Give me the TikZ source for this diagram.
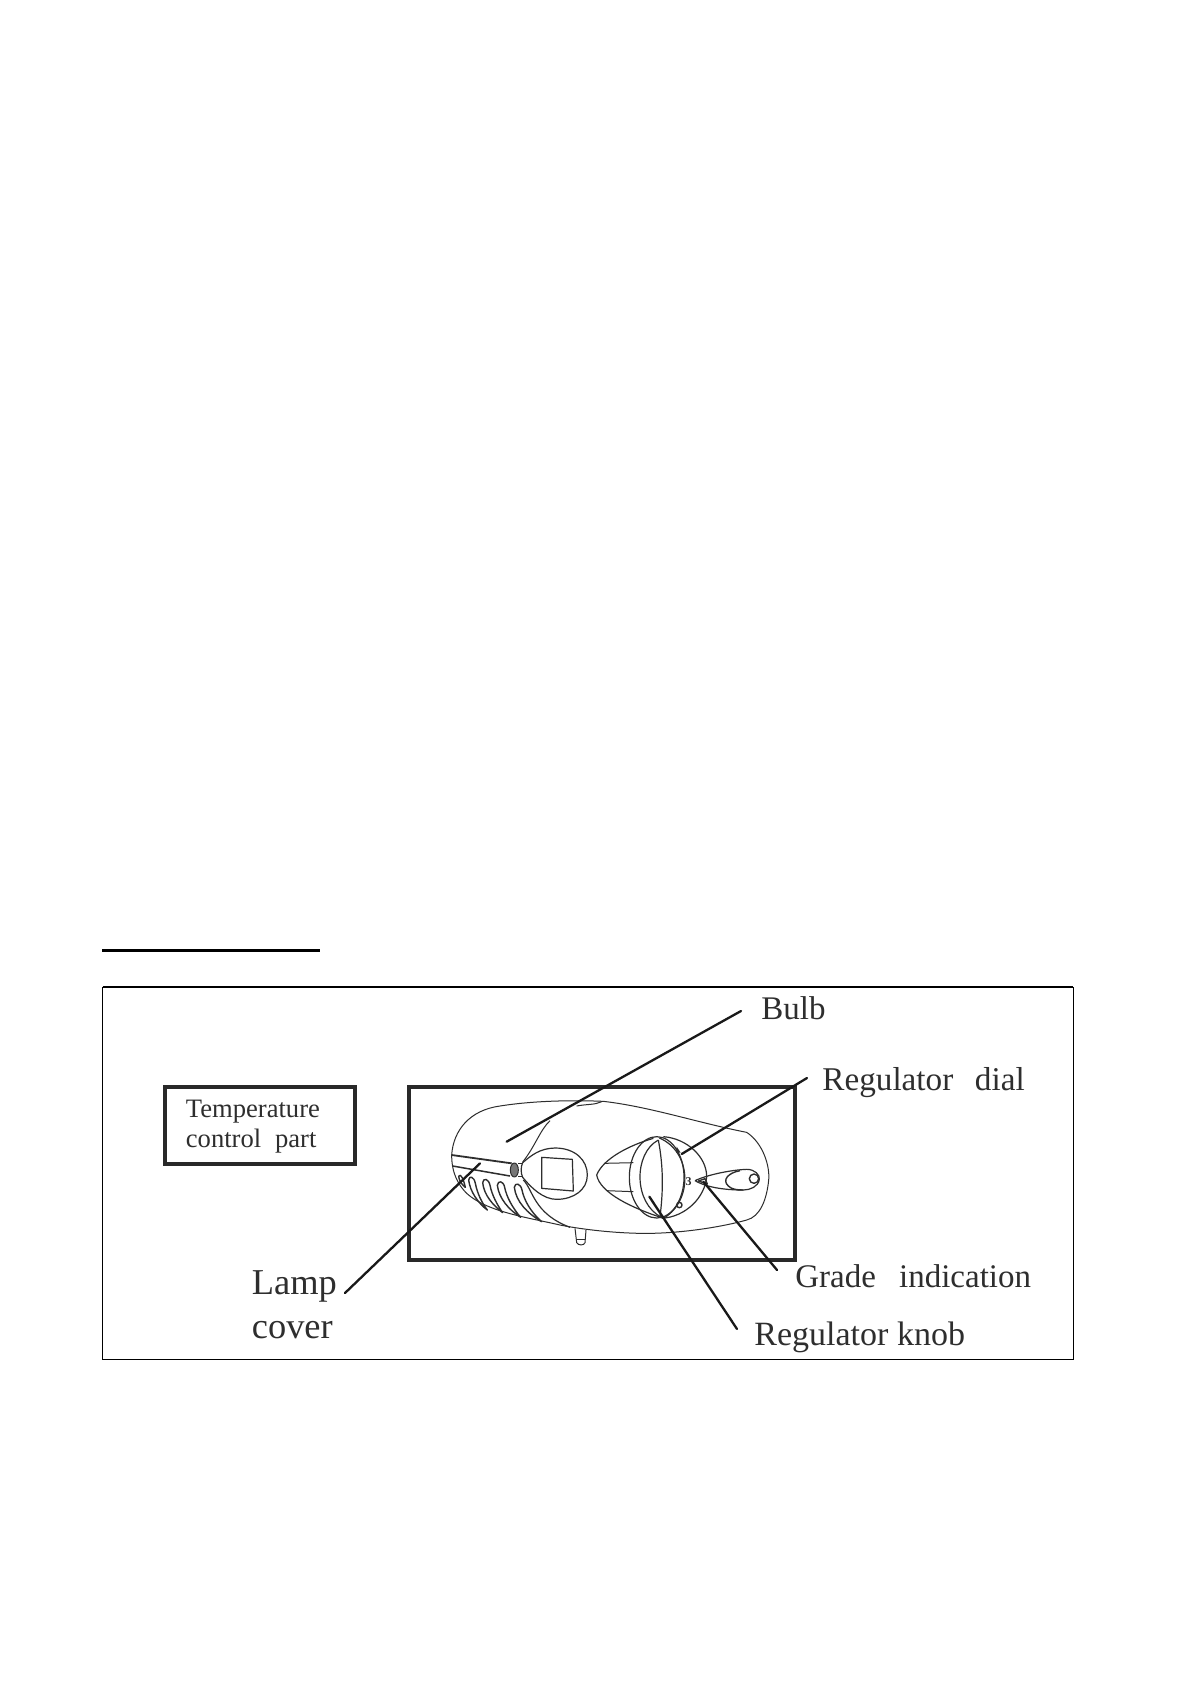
\documentclass[tikz,border=0pt]{standalone}
\usepackage{fontspec}
\setmainfont{Liberation Serif}
\definecolor{ink}{HTML}{2E2E2E}
\tikzset{
  lbl/.style={anchor=base west,inner sep=0pt,text=ink},
  leader/.style={draw=black!90,line width=1.15pt,line cap=round},
  part/.style={draw=ink,line width=0.5pt,line join=round},
  slot/.style={draw=ink,line width=0.7pt,line join=round},
  heavy/.style={draw=ink,line width=0.9pt},
  boxline/.style={draw=ink!90!black,line width=1.7pt,outer sep=0pt,inner sep=0pt}
}
\newcommand{\lsize}[1]{\fontsize{#1}{#1}\selectfont}
\begin{document}
\begin{tikzpicture}[x=0.5pt,y=-0.5pt]
\useasboundingbox[fill=white] (0,0) rectangle (1192,1684);
% heading rule and outer frame
\coordinate (h1) at (102,950.5);
\coordinate (h2) at (320,950.5);
\draw[black,line width=1.4pt] (h1) -- (h2);
\draw[black,line width=0.5pt] (102.5,987) rectangle (1073,1359);
\draw[black,line width=1pt] (102.5,987) -- (1073,987);
% boxes
\node[boxline,draw,minimum width=95pt,minimum height=38.5pt,anchor=north west] (tbox) at (165,1087) {};
\node[boxline,draw,minimum width=193pt,minimum height=86.5pt,anchor=north west] (ibox) at (409,1087) {};
% device, in a 3x grid
\begin{scope}[shift={(400,1080)},x=0.16667pt,y=-0.16667pt]
  % body
  \draw[part] (155,225) .. controls (160,150) and (210,90) .. (300,78)
     .. controls (400,62) and (520,60) .. (610,64)
     .. controls (750,80) and (900,130) .. (1040,157)
     .. controls (1090,190) and (1110,260) .. (1106,300)
     .. controls (1100,360) and (1080,410) .. (1040,420)
     .. controls (950,445) and (820,462) .. (720,460)
     .. controls (620,458) and (530,445) .. (480,435)
     .. controls (380,412) and (260,395) .. (200,340)
     .. controls (175,315) and (155,280) .. (155,225);
  % bulb cover
  \draw[part] (605,65) .. controls (585,75) and (560,72) .. (530,78);
  \draw[part] (450,122) .. controls (420,150) and (405,200) .. (368,246);
  % lamp band
  \draw[heavy] (155,225) -- (335,250);
  \draw[heavy,line width=0.75pt] (158,258) -- (330,288);
  \draw[part,fill=ink!65] (343,270) ellipse (12 and 21);
  \draw[part] (355,250) -- (368,250) (355,290) -- (368,290);
  % display
  \draw[part,line width=0.6pt] (368,248) .. controls (395,225) and (420,205) .. (465,204)
     .. controls (525,204) and (562,240) .. (562,285)
     .. controls (562,330) and (520,358) .. (470,358)
     .. controls (430,358) and (395,325) .. (368,292)
     .. controls (362,280) and (362,260) .. (368,248);
  \draw[part,line width=0.6pt] (425,232) -- (517,238) -- (520,333) -- (425,325) -- cycle;
  % vents
  \draw[slot] (176,288) .. controls (182,280) and (190,295) .. (196,322)
     .. controls (186,315) and (176,300) .. (176,288);
  \draw[slot] (206,300) .. controls (208,285) and (222,290) .. (226,310)
     .. controls (232,340) and (245,368) .. (262,390)
     .. controls (235,370) and (210,335) .. (206,300);
  \draw[slot] (248,308) .. controls (250,292) and (266,296) .. (270,316)
     .. controls (276,345) and (290,372) .. (308,398)
     .. controls (278,375) and (252,345) .. (248,308);
  \draw[slot] (292,316) .. controls (294,300) and (310,302) .. (314,322)
     .. controls (320,352) and (338,384) .. (362,412)
     .. controls (325,388) and (297,355) .. (292,316);
  \draw[slot] (343,322) .. controls (345,306) and (362,310) .. (366,330)
     .. controls (372,360) and (392,396) .. (425,425)
     .. controls (382,400) and (348,365) .. (343,322);
  \draw[part,line width=0.6pt] (370,300) .. controls (400,330) and (400,400) .. (510,442);
  % foot
  \draw[part] (525,445) -- (530,488) .. controls (535,497) and (552,497) .. (555,488) -- (558,450);
  \draw[part] (530,478) -- (555,478);
  % knob cone
  \draw[part,line width=0.6pt] (760,175) .. controls (690,195) and (610,235) .. (590,285)
     .. controls (600,340) and (700,385) .. (785,413);
  \draw[part] (612,250) -- (700,248);
  \draw[part] (620,332) -- (700,335);
  % knob
  \draw[part,line width=0.6pt] (770,292) ellipse (82 and 122);
  \draw[part,line width=0.6pt] (775,180) .. controls (700,220) and (700,370) .. (785,412);
  \draw[part,line width=0.6pt] (775,180) .. controls (790,260) and (790,330) .. (780,410);
  \draw[part,line width=0.6pt] (778,174) .. controls (875,215) and (880,360) .. (792,414);
  % dial
  \draw[part,line width=0.6pt] (790,170) .. controls (860,175) and (920,230) .. (920,290)
     .. controls (915,350) and (860,410) .. (785,415);
  % dial marks
  \fill[ink] (830,200) -- (842,218) -- (828,218) -- cycle;
  \node[inner sep=0pt,text=ink,font=\bfseries\lsize{6}] (three) at (866,304) {3};
  \draw[part,line width=0.7pt] (838,375) circle (8);
  % handle
  \draw[part,line width=0.6pt] (885,302) .. controls (920,285) and (990,270) .. (1040,268)
     .. controls (1065,268) and (1080,285) .. (1078,298)
     .. controls (1075,320) and (1050,330) .. (1030,330)
     .. controls (985,330) and (925,325) .. (885,302);
  \draw[part,line width=0.7pt] (1020,272) .. controls (985,278) and (965,300) .. (985,318) .. controls (995,328) and (1010,330) .. (1030,330);
  \draw[part,line width=0.7pt] (1062,296) circle (14);
  \draw[part,line width=0.7pt] (895,303) -- (915,296) -- (922,312) -- cycle;
  % leader ends on the device
  \coordinate (eBulb) at (320,185);
  \coordinate (eDial) at (845,222);
  \coordinate (eLamp) at (240,250);
  \coordinate (eKnob) at (748,350);
  \coordinate (eGrade) at (910,305);
\end{scope}
% labels
\node[lbl,font=\lsize{13.3}] (temp) at (185.5,1117) {Temperature};
\node[lbl,font=\lsize{13.3}] (ctrl) at (185.5,1147) {control\hspace{0.27em} part};
\node[lbl,font=\lsize{16.5}] (bulb) at (761,1019) {Bulb};
\node[lbl,font=\lsize{16.6}] (dial) at (822,1090) {Regulator\hspace{0.4em} dial};
\node[lbl,font=\lsize{16.5}] (grade) at (795,1287) {Grade\hspace{0.45em} indication};
\node[lbl,font=\lsize{17}] (knob) at (754,1345) {Regulator knob};
\node[lbl,font=\lsize{18.2}] (lamp) at (251.5,1294) {Lamp};
\node[lbl,font=\lsize{18.2}] (cover) at (251.5,1338) {cover};
% leaders
\coordinate (oBulb) at (741,1011);
\coordinate (oDial) at (807,1078);
\coordinate (oLamp) at (345,1293);
\coordinate (oKnob) at (737,1329);
\coordinate (oGrade) at (777,1270);
\draw[leader] (oBulb) -- (eBulb);
\draw[leader] (oDial) -- (eDial);
\draw[leader] (oLamp) -- (eLamp);
\draw[leader] (oKnob) -- (eKnob);
\draw[leader] (oGrade) -- (eGrade);
\end{tikzpicture}
\end{document}
